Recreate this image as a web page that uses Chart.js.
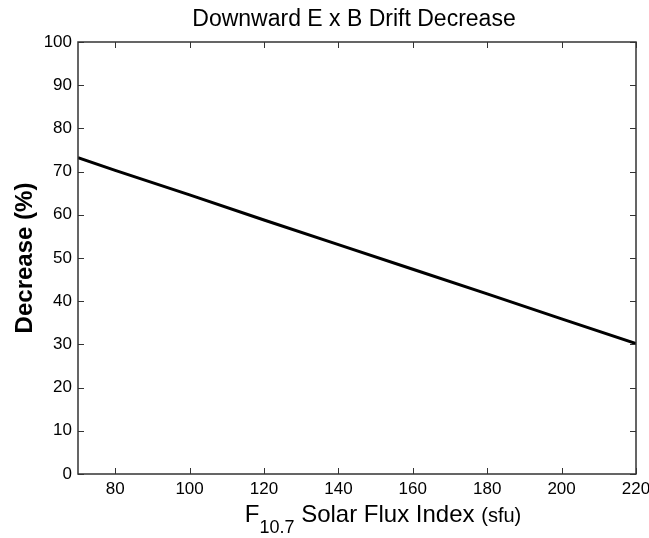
<!DOCTYPE html>
<html lang="en">
<head>
  <meta charset="UTF-8" />
  <title>Downward E x B Drift Decrease</title>
  <style>
    body { margin: 0; background: #fff; }
  </style>
</head>
<body>
  <canvas id="myChart" width="649" height="538"></canvas>

  <script src="https://cdn.jsdelivr.net/npm/chart.js"></script>
  <script>
    // values
    const fluxValues = [70, 80, 100, 120, 140, 160, 180, 200, 220];
    const decreaseValues = [73.2, 70.3, 64.6, 58.8, 53.1, 47.4, 41.7, 35.9, 30.2];
    const xTicks = [80, 100, 120, 140, 160, 180, 200, 220];
    const yTicks = [0, 10, 20, 30, 40, 50, 60, 70, 80, 90, 100];

    const FONT = "'Liberation Sans', Arial, sans-serif";
    const ctx = document.getElementById("myChart");

    const frameAndText = {
      id: "frameAndText",
      afterDraw(chart) {
        const c = chart.ctx;
        const a = chart.chartArea;
        const xs = chart.scales.x;
        const ys = chart.scales.y;
        c.save();
        c.strokeStyle = "#333";
        c.lineWidth = 1.5;
        c.strokeRect(a.left, a.top, a.right - a.left, a.bottom - a.top);
        // inward ticks on all four sides
        c.lineWidth = 1;
        c.beginPath();
        xTicks.forEach((v) => {
          const px = Math.round(xs.getPixelForValue(v)) + 0.5;
          c.moveTo(px, a.bottom); c.lineTo(px, a.bottom - 6);
          c.moveTo(px, a.top); c.lineTo(px, a.top + 6);
        });
        yTicks.forEach((v) => {
          const py = Math.round(ys.getPixelForValue(v)) + 0.5;
          c.moveTo(a.left, py); c.lineTo(a.left + 6, py);
          c.moveTo(a.right, py); c.lineTo(a.right - 6, py);
        });
        c.stroke();

        c.fillStyle = "#000";
        c.textBaseline = "middle";
        c.textAlign = "center";
        c.font = "23px " + FONT;
        c.fillText("Downward E x B Drift Decrease", 354, 20);

        // y title
        c.save();
        c.translate(25, 258);
        c.rotate(-Math.PI / 2);
        c.font = "bold 24px " + FONT;
        c.fillText("Decrease (%)", 0, 0);
        c.restore();

        // x title with subscript
        const parts = [
          { t: "F", f: "24px " + FONT, dy: 0 },
          { t: "10.7", f: "18px " + FONT, dy: 11 },
          { t: " Solar Flux Index ", f: "24px " + FONT, dy: 0 },
          { t: "(sfu)", f: "20px " + FONT, dy: 0 },
        ];
        let total = 0;
        parts.forEach((p) => { c.font = p.f; p.w = c.measureText(p.t).width; total += p.w; });
        let x = 383 - total / 2;
        c.textAlign = "left";
        c.textBaseline = "alphabetic";
        parts.forEach((p) => {
          c.font = p.f;
          c.fillText(p.t, x, 522 + p.dy);
          x += p.w;
        });
        c.restore();
      },
    };

    new Chart(ctx, {
      type: "line",
      data: {
        datasets: [
          {
            data: fluxValues.map((v, i) => ({ x: v, y: decreaseValues[i] })),
            borderColor: "#000",
            borderWidth: 3,
            pointRadius: 0,
            tension: 0,
          },
        ],
      },
      options: {
        responsive: false,
        animation: false,
        layout: { padding: { top: 42, right: 13, left: 0, bottom: 0 } },
        plugins: { legend: { display: false }, title: { display: false }, tooltip: { enabled: false } },
        scales: {
          x: {
            type: "linear",
            min: 70,
            max: 220,
            afterBuildTicks: (s) => { s.ticks = xTicks.map((v) => ({ value: v })); },
            afterFit: (s) => { s.height = 64; s.paddingRight = 0; s.paddingLeft = 0; },
            grid: { display: false, drawTicks: false },
            border: { display: false },
            ticks: { color: "#000", padding: 5, maxRotation: 0, font: { size: 17, family: FONT } },
          },
          y: {
            min: 0,
            max: 100,
            afterBuildTicks: (s) => { s.ticks = yTicks.map((v) => ({ value: v })); },
            afterFit: (s) => { s.width = 78; s.paddingTop = 0; s.paddingBottom = 0; },
            grid: { display: false, drawTicks: false },
            border: { display: false },
            ticks: { color: "#000", padding: 6, font: { size: 17, family: FONT } },
          },
        },
      },
      plugins: [frameAndText],
    });
  </script>
</body>
</html>
